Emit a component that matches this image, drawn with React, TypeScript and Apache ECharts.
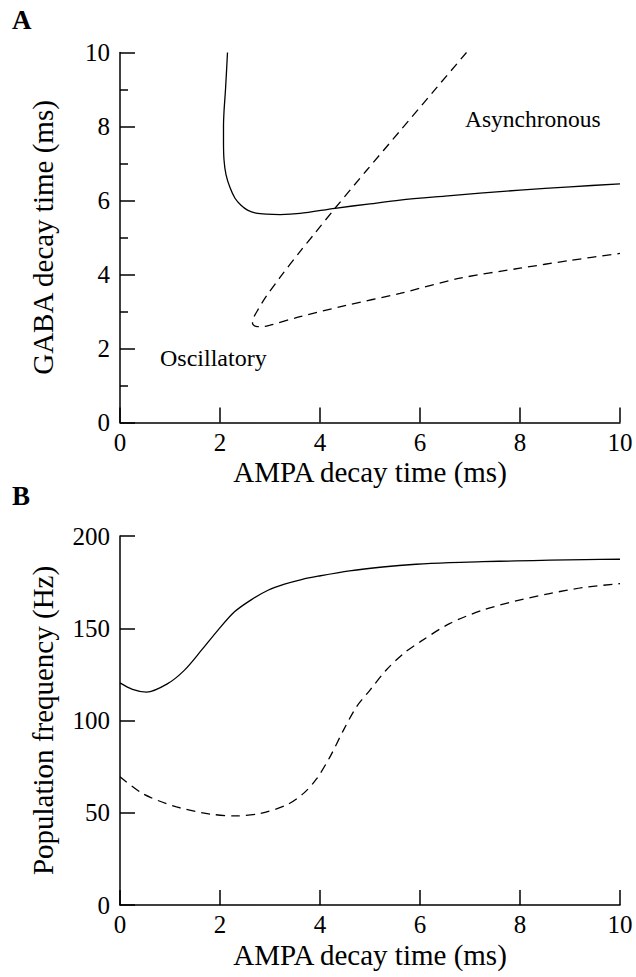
import React, { useEffect, useRef } from "react";
import * as echarts from "echarts";

// Panel A: GABA decay time vs AMPA decay time (phase boundaries)
const aSolidX = [2.15, 2.11, 2.08, 2.07, 2.07, 2.08, 2.12, 2.2, 2.3, 2.42, 2.55, 2.72, 2.93, 3.2, 3.6, 4.3, 5.0, 5.6, 6.5, 7.2, 8.0, 9.0, 10];
const aSolidY = [10.0, 9.0, 8.4, 8.0, 7.6, 7.1, 6.7, 6.35, 6.06, 5.87, 5.74, 5.66, 5.63, 5.62, 5.65, 5.79, 5.91, 6.01, 6.12, 6.2, 6.28, 6.37, 6.45];
const aDashX = [6.93, 6.27, 5.6, 4.93, 4.3, 3.9, 3.6, 3.2, 2.93, 2.76, 2.66, 2.65, 2.68, 2.75, 2.85, 3.0, 3.6, 4.5, 5.6, 6.8, 8.0, 9.0, 10];
const aDashY = [10.0, 8.95, 7.88, 6.81, 5.79, 5.12, 4.62, 3.92, 3.42, 3.05, 2.8, 2.68, 2.62, 2.59, 2.59, 2.63, 2.86, 3.16, 3.49, 3.9, 4.17, 4.38, 4.57];

// Panel B: population frequency vs AMPA decay time
const bSolidX = [0, 0.25, 0.53, 0.96, 1.29, 1.63, 1.96, 2.29, 2.63, 2.96, 3.29, 3.63, 3.96, 4.59, 5.25, 5.92, 6.59, 7.25, 7.92, 8.6, 9.3, 10];
const bSolidY = [120.4, 116.9, 115.4, 120.1, 127.3, 138.1, 149.0, 158.9, 165.5, 170.6, 173.9, 176.4, 178.2, 181.1, 183.2, 184.7, 185.6, 186.1, 186.5, 186.9, 187.2, 187.4];
const bDashX = [0, 0.47, 1.13, 1.8, 2.33, 2.8, 3.33, 3.67, 3.93, 4.2, 4.47, 4.73, 5.0, 5.33, 5.67, 6.0, 6.59, 7.25, 7.92, 8.59, 9.25, 10];
const bDashY = [69.5, 60.1, 53.2, 49.3, 48.3, 49.6, 54.2, 60.5, 68.3, 80.3, 94.8, 107.4, 116.5, 127.5, 136.3, 142.6, 152.5, 159.8, 164.8, 168.8, 172.0, 174.2];

const xTitle = "AMPA decay time (ms)";
const yTitleA = "GABA decay time (ms)";
const yTitleB = "Population frequency (Hz)";

const FONT = "'Liberation Serif', 'Times New Roman', serif";

export default function App() {
  const ref = useRef<HTMLDivElement>(null);
  useEffect(() => {
    const chart = echarts.init(ref.current!, null, { renderer: "svg" });
    const zip = (xs: number[], ys: number[]) => xs.map((x, i) => [x, ys[i]]);
    const ls = () => ({ color: "#000", width: 1.5 });
    const xAxisBase = (gridIndex: number) => ({
      gridIndex,
      type: "value",
      min: 0,
      max: 10,
      interval: 2,
      name: xTitle,
      nameLocation: "middle",
      nameGap: 35,
      nameTextStyle: { fontFamily: FONT, fontSize: 29, color: "#000" },
      axisLine: { show: true, onZero: false, lineStyle: ls() },
      axisTick: { show: true, inside: true, length: 15, lineStyle: ls() },
      axisLabel: { margin: 7, fontFamily: FONT, fontSize: 25, color: "#000", showMinLabel: true, showMaxLabel: true },
      splitLine: { show: false },
    });
    const yAxisBase = (gridIndex: number, max: number, interval: number, name: string, minor: boolean) => ({
      gridIndex,
      type: "value",
      min: 0,
      max,
      interval,
      name,
      nameLocation: "middle",
      nameGap: 63,
      nameTextStyle: { fontFamily: FONT, fontSize: 29, color: "#000" },
      axisLine: { show: true, onZero: false, lineStyle: ls() },
      axisTick: { show: true, inside: true, length: 15, lineStyle: ls() },
      minorTick: { show: minor, splitNumber: 2, length: 8, lineStyle: ls() },
      axisLabel: { margin: 10, fontFamily: FONT, fontSize: 25, color: "#000", showMinLabel: true, showMaxLabel: true },
      splitLine: { show: false },
      minorSplitLine: { show: false },
    });
    chart.setOption({
      animation: false,
      backgroundColor: "#fff",
      grid: [
        { left: 120, top: 52.5, width: 500, height: 370 },
        { left: 120, top: 536, width: 500, height: 369 },
      ],
      xAxis: [xAxisBase(0), xAxisBase(1)],
      yAxis: [
        yAxisBase(0, 10, 2, yTitleA, true),
        yAxisBase(1, 200, 50, yTitleB, false),
      ],
      series: [
        { type: "line", xAxisIndex: 0, yAxisIndex: 0, data: zip(aSolidX, aSolidY), showSymbol: false, smooth: 0.3, lineStyle: { color: "#000", width: 1.3 } },
        { type: "line", xAxisIndex: 0, yAxisIndex: 0, data: zip(aDashX, aDashY), showSymbol: false, smooth: 0.3, lineStyle: { color: "#000", width: 1.3, type: [9, 6] } },
        { type: "line", xAxisIndex: 1, yAxisIndex: 1, data: zip(bSolidX, bSolidY), showSymbol: false, smooth: 0.3, lineStyle: { color: "#000", width: 1.3 } },
        { type: "line", xAxisIndex: 1, yAxisIndex: 1, data: zip(bDashX, bDashY), showSymbol: false, smooth: 0.3, lineStyle: { color: "#000", width: 1.3, type: [9, 6] } },
      ],
      graphic: [
        { type: "text", left: 12, top: 6, style: { text: "A", fontFamily: FONT, fontSize: 27, fontWeight: "bold", fill: "#000" } },
        { type: "text", left: 12, top: 482, style: { text: "B", fontFamily: FONT, fontSize: 27, fontWeight: "bold", fill: "#000" } },
        { type: "text", left: 465, top: 107, style: { text: "Asynchronous", fontFamily: FONT, fontSize: 23.5, fill: "#000" } },
        { type: "text", left: 160, top: 346, style: { text: "Oscillatory", fontFamily: FONT, fontSize: 24, fill: "#000" } },
      ],
    });
    return () => chart.dispose();
  }, []);
  return <div ref={ref} style={{ position: "absolute", left: 0, top: 0, width: 636, height: 977, background: "#fff" }} />;
}
